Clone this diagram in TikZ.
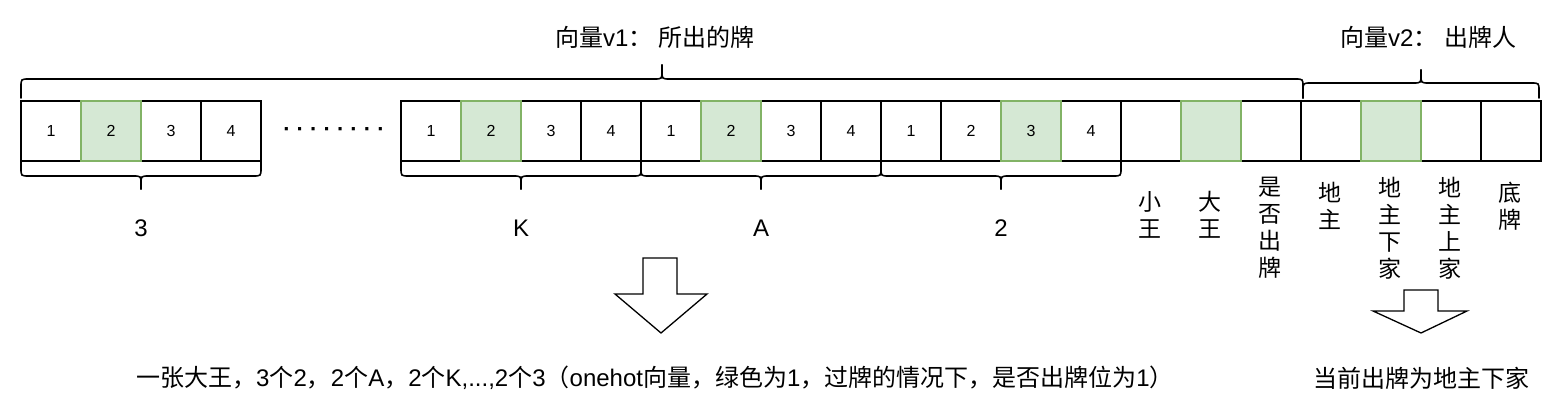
\documentclass[tikz,border=0pt]{standalone}
\usepackage{fontspec}
\setmainfont{Liberation Sans}
\newfontfamily\cjk{Noto Sans CJK SC}
\definecolor{gfill}{HTML}{D5E8D4}
\definecolor{gline}{HTML}{82B366}
\tikzset{
  cell/.style={draw=black, line width=1.6pt, minimum width=60pt, minimum height=60pt, inner sep=0pt, font=\fontsize{16}{18}\selectfont},
  gcell/.style={cell, fill=gfill, draw=gline},
  brc/.style={line width=1.6pt, line join=round, line cap=round},
  lbl/.style={font=\fontsize{24}{28}\selectfont, inner sep=0pt},
  vlbl/.style={font=\cjk\fontsize{23}{27}\selectfont, align=center, inner sep=0pt},
  ttl/.style={font=\fontsize{24}{28}\selectfont, inner sep=0pt},
  barrow/.style={draw=black, line width=1.3pt, fill=white, line join=miter}
}
\newcommand\cbrace[6]{%
  \draw[brc] (#1,#3) -- (#1,{#4+(#6)}) .. controls (#1,#4) .. ({#1+8},#4)
    -- ({(#1+#2)/2-8},#4) .. controls ({(#1+#2)/2},#4) .. ({(#1+#2)/2},{#4-(#6)})
    -- ({(#1+#2)/2},#5);
  \draw[brc] ({(#1+#2)/2},#5) -- ({(#1+#2)/2},{#4-(#6)}) .. controls ({(#1+#2)/2},#4) .. ({(#1+#2)/2+8},#4)
    -- ({#2-8},#4) .. controls (#2,#4) .. (#2,{#4+(#6)}) -- (#2,#3);}
\begin{document}
\begin{tikzpicture}[x=1pt,y=-1pt]
\useasboundingbox (0,0) rectangle (1562,409);
% cells: group 3
\node[cell] (c1) at (51,131) {1};
\node[cell] (c3) at (171,131) {3};
\node[cell] (c4) at (231,131) {4};
\node[gcell] (c2) at (111,131) {2};
% dots
\node[font=\bfseries\fontsize{22}{24}\selectfont, inner sep=0pt] (dots) at (334,132) {· · · · · · · ·};
% group K
\node[cell] (k1) at (431,131) {1};
\node[cell] (k3) at (551,131) {3};
\node[cell] (k4) at (611,131) {4};
% group A
\node[cell] (a1) at (671,131) {1};
\node[cell] (a3) at (791,131) {3};
\node[cell] (a4) at (851,131) {4};
% group 2
\node[cell] (t1) at (911,131) {1};
\node[cell] (t2) at (971,131) {2};
\node[cell] (t4) at (1091,131) {4};
% jokers, pass
\node[cell] (xw) at (1151,131) {};
\node[cell] (sf) at (1271,131) {};
% players
\node[cell] (dz) at (1331,131) {};
\node[cell] (sj) at (1451,131) {};
\node[cell] (dp) at (1511,131) {};
% green cells on top
\node[gcell] (k2) at (491,131) {2};
\node[gcell] (a2) at (731,131) {2};
\node[gcell] (t3) at (1031,131) {3};
\node[gcell] (dw) at (1211,131) {};
\node[gcell] (xj) at (1391,131) {};
% braces
\cbrace{21}{1303}{98}{79}{65}{8}
\cbrace{1303}{1539}{98}{83}{70}{8}
\cbrace{21}{261}{162}{176}{189}{-8}
\cbrace{401}{641}{162}{176}{189}{-8}
\cbrace{641}{881}{162}{176}{189}{-8}
\cbrace{881}{1121}{162}{176}{189}{-8}
% titles
\node[ttl] (v1) at (655,37) {{\cjk 向量}v1{\cjk ：} {\cjk 所出的牌}};
\node[ttl] (v2) at (1428,37) {{\cjk 向量}v2{\cjk ：} {\cjk 出牌人}};
% group labels
\node[lbl] (l3) at (141,228) {3};
\node[lbl] (lk) at (521,228) {K};
\node[lbl] (la) at (761,228) {A};
\node[lbl] (l2) at (1001,228) {2};
% vertical labels
\node[vlbl] (vxw) at (1150,215) {小\\王};
\node[vlbl] (vdw) at (1210,215) {大\\王};
\node[vlbl] (vsf) at (1270,228) {是\\否\\出\\牌};
\node[vlbl] (vdz) at (1330,206) {地\\主};
\node[vlbl] (vxj) at (1390,228) {地\\主\\下\\家};
\node[vlbl] (vsj) at (1450,228) {地\\主\\上\\家};
\node[vlbl] (vdp) at (1510,206) {底\\牌};
% block arrows
\draw[barrow] (643,258) -- (677,258) -- (677,294) -- (707,294) -- (661,333) -- (615,294) -- (643,294) -- cycle;
\draw[barrow] (1404,290) -- (1438,290) -- (1438,311) -- (1467,311) -- (1421,333) -- (1373,311) -- (1404,311) -- cycle;
% bottom texts
\node[ttl] (desc) at (655,378) {{\cjk 一张大王，}3{\cjk 个}2{\cjk ，}2{\cjk 个}A{\cjk ，}2{\cjk 个}K,...,2{\cjk 个}3{\cjk （}onehot{\cjk 向量，绿色为}1{\cjk ，过牌的情况下，是否出牌位为}1{\cjk ）}};
\node[ttl] (cur) at (1421,378) {\cjk 当前出牌为地主下家};
\end{tikzpicture}
\end{document}
